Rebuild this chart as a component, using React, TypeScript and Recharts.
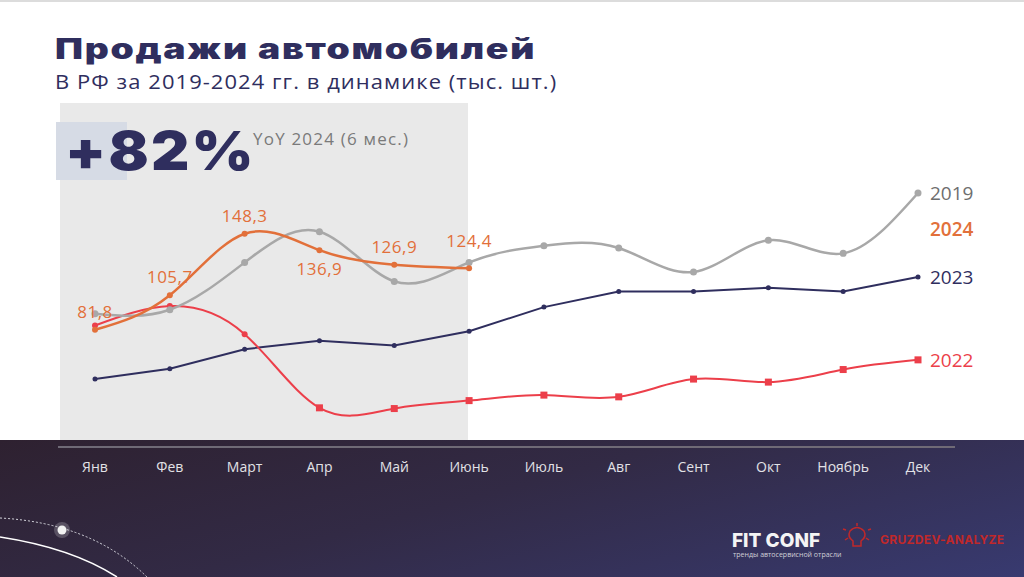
import React from "react";
import { LineChart, Line, XAxis, YAxis, LabelList } from "recharts";

const months = ["Янв", "Фев", "Март", "Апр", "Май", "Июнь", "Июль", "Авг", "Сент", "Окт", "Ноябрь", "Дек"];
const sales2019 = [92.9, 95.7, 128.4, 149.7, 115.3, 128.4, 140.0, 138.4, 121.8, 143.7, 134.7, 176.5];
const sales2022 = [84.8, 98.2, 78.8, 27.8, 27.3, 32.8, 36.6, 35.4, 47.7, 45.6, 54.3, 61.0];
const sales2023 = [47.7, 54.8, 68.4, 74.2, 70.9, 80.8, 97.5, 108.3, 108.3, 110.9, 108.3, 118.3];
const sales2024 = [81.8, 105.7, 148.3, 136.9, 126.9, 124.4];

const NAVY = "#2f2e5e";
const GRAY = "#a8a8a8";
const ORANGE = "#e2703a";
const RED = "#ec3f4a";
const FONT = "'Open Sans', 'Noto Sans', sans-serif";
const HEAVY = "Inter, 'Noto Sans', sans-serif";

const data = months.map((m, i) => ({
  month: m,
  y2019: sales2019[i],
  y2022: sales2022[i],
  y2023: sales2023[i],
  y2024: i < sales2024.length ? sales2024[i] : null,
}));

const fmt = (v: number) => v.toFixed(1).replace(".", ",");

function Label2024(props: any) {
  const { x, y, value, index } = props;
  if (value == null) return null;
  let dy = -12;
  if (index === 3) dy = 25;
  if (index === 5) dy = -21;
  return (
    <text x={x} y={y + dy} textAnchor="middle" fill={ORANGE} fontSize={17} fontFamily={FONT} letterSpacing={0.5}>
      {fmt(value)}
    </text>
  );
}

function endLabel(text: string, color: string) {
  return (props: any) => {
    const { x, y, index } = props;
    if (index !== months.length - 1) return null;
    return (
      <text x={x + 12} y={y} dominantBaseline="central" fill={color} fontSize={19} fontFamily={FONT}>
        {text}
      </text>
    );
  };
}

function Dot2022(props: any) {
  const { cx, cy, index } = props;
  if (cx == null || cy == null) return null;
  if (index < 3) return <circle key={index} cx={cx} cy={cy} r={3} fill={RED} />;
  return <rect key={index} x={cx - 3.5} y={cy - 3.5} width={7} height={7} fill={RED} />;
}

const stretch = (k: number): React.CSSProperties => ({
  transform: `scaleX(${k})`,
  transformOrigin: "left top",
  whiteSpace: "nowrap",
});

export default function App() {
  return (
    <div style={{ position: "absolute", left: 0, top: 0, width: 1024, height: 577, background: "#fff", overflow: "hidden" }}>
      <div style={{ position: "absolute", left: 0, top: 0, width: 1024, height: 2, background: "#dcdcdc" }} />
      <div style={{ position: "absolute", left: 60, top: 103, width: 408, height: 340, background: "#e9e9e9" }} />
      <div style={{ position: "absolute", left: 56, top: 122, width: 71, height: 58, background: "#d6dbe5" }} />
      <div style={{ position: "absolute", left: 0, top: 440, width: 1024, height: 137, background: "linear-gradient(165deg, #2e2130 0%, #322a45 45%, #383a70 100%)" }} />
      <div style={{ position: "absolute", left: 58, top: 446, width: 897, height: 2, background: "#6f6a76" }} />

      <div style={{ position: "absolute", left: 55, top: 32, fontFamily: HEAVY, fontWeight: 900, fontSize: 28, lineHeight: "34px", letterSpacing: 1.3, color: NAVY, ...stretch(1.33) }}>
        Продажи автомобилей
      </div>
      <div style={{ position: "absolute", left: 55, top: 68, fontFamily: FONT, fontSize: 20.5, lineHeight: "26px", letterSpacing: 1, color: NAVY, ...stretch(1.07) }}>
        В РФ за 2019-2024 гг. в динамике (тыс. шт.)
      </div>
      <div style={{ position: "absolute", left: 65, top: 118, fontFamily: HEAVY, fontWeight: 900, fontSize: 54, lineHeight: "66px", letterSpacing: 2, color: NAVY, ...stretch(1.1) }}>
        +82%
      </div>
      <div style={{ position: "absolute", left: 253, top: 127, fontFamily: FONT, fontSize: 17, letterSpacing: 1.2, color: "#7a7a7a", whiteSpace: "nowrap" }}>
        YoY 2024 (6 мес.)
      </div>
      <div style={{ position: "absolute", left: 930, top: 216, fontFamily: FONT, fontSize: 19, fontWeight: 600, color: ORANGE }}>
        2024
      </div>

      <svg width={1024} height={577} style={{ position: "absolute", left: 0, top: 0 }}>
        <path d="M0,537 Q72,548 117,577" stroke="#ffffff" strokeWidth={1.5} fill="none" />
        <path d="M0,518 Q92,523 147,577" stroke="#d8d8e0" strokeWidth={1} strokeDasharray="2 2" fill="none" />
        <circle cx={62} cy={530} r={8} fill="#ffffff" opacity={0.2} />
        <circle cx={62} cy={530} r={4.5} fill="#f2f2f2" />
        <g stroke="#c0282a" strokeWidth={1.5} fill="none">
          <path d="M853,546 L853,541 Q847,537 850,531 Q857,524 864,531 Q867,537 861,541 L861,546 Z" />
          <line x1={857} y1={523} x2={857} y2={526} />
          <line x1={846} y1={530} x2={843} y2={529} />
          <line x1={868} y1={530} x2={871} y2={529} />
          <line x1={848} y1={538} x2={845} y2={540} />
          <line x1={866} y1={538} x2={869} y2={540} />
        </g>
      </svg>
      <div style={{ position: "absolute", left: 732, top: 529, fontFamily: HEAVY, fontWeight: 800, fontSize: 19, color: "#f4f4f4", whiteSpace: "nowrap" }}>
        FIT CONF
      </div>
      <div style={{ position: "absolute", left: 733, top: 550, fontFamily: FONT, fontSize: 7, color: "#d0d0d8", whiteSpace: "nowrap" }}>
        тренды автосервисной отрасли
      </div>
      <div style={{ position: "absolute", left: 880, top: 532, fontFamily: HEAVY, fontWeight: 700, fontSize: 12, color: "#c0282a", whiteSpace: "nowrap", letterSpacing: 0.3 }}>
        GRUZDEV-ANALYZE
      </div>

      <div style={{ position: "absolute", left: 0, top: 0 }}>
        <LineChart width={1024} height={577} data={data} margin={{ top: 159, right: 106, bottom: 89, left: 95 }}>
          <XAxis
            dataKey="month"
            height={40}
            axisLine={false}
            tickLine={false}
            tickMargin={8}
            interval={0}
            tick={{ fill: "#e2e2e6", fontSize: 14, fontFamily: FONT }}
          />
          <YAxis hide domain={[0, 200]} />
          <Line
            type="linear"
            dataKey="y2023"
            stroke={NAVY}
            strokeWidth={2}
            dot={{ r: 2.5, fill: NAVY, stroke: NAVY, strokeWidth: 0 }}
            isAnimationActive={false}
          >
            <LabelList dataKey="y2023" content={endLabel("2023", NAVY)} />
          </Line>
          <Line
            type="natural"
            dataKey="y2022"
            stroke={RED}
            strokeWidth={2}
            dot={Dot2022}
            isAnimationActive={false}
          >
            <LabelList dataKey="y2022" content={endLabel("2022", RED)} />
          </Line>
          <Line
            type="natural"
            dataKey="y2019"
            stroke={GRAY}
            strokeWidth={2.5}
            dot={{ r: 3.5, fill: GRAY, stroke: GRAY, strokeWidth: 0 }}
            isAnimationActive={false}
          >
            <LabelList dataKey="y2019" content={endLabel("2019", "#6e6e6e")} />
          </Line>
          <Line
            type="natural"
            dataKey="y2024"
            stroke={ORANGE}
            strokeWidth={2.5}
            dot={{ r: 3, fill: ORANGE, stroke: ORANGE, strokeWidth: 0 }}
            isAnimationActive={false}
          >
            <LabelList dataKey="y2024" content={Label2024} />
          </Line>
        </LineChart>
      </div>
    </div>
  );
}
